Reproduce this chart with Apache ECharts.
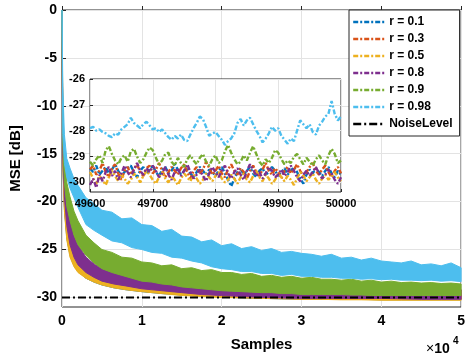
<!DOCTYPE html>
<html>
<head>
<meta charset="utf-8">
<script src="https://cdn.jsdelivr.net/npm/echarts@6/dist/echarts.min.js"></script>
<style>html,body{margin:0;padding:0;background:#fff}#c{width:468px;height:359px}</style>
</head>
<body>
<div id="c"></div>
<script>
// ---- main chart: envelope (upper/lower) of each noisy learning curve ----
const xMain = [0,100,300,600,1000,1500,2000,3000,4000,5000,6500,8000,10000,12500,15000,17500,20000,22500,25000,27500,30000,32500,35000,37500,40000,42500,45000,47500,50000];
const xFine = [0,100,300,600,1000,1500,2000,3000,4000,5000,6250,7500,8750,10000,11250,12500,13750,15000,16250,17500,18750,20000,21250,22500,23750,25000,26250,27500,28750,30000,31250,32500,33750,35000,36250,37500,38750,40000,41250,42500,43750,45000,46250,47500,48750,50000];

const up01 = [0,-11.8,-16.8,-20.8,-22.8,-24.6,-25.5,-26.5,-27.1,-27.5,-27.9,-28.2,-28.5,-28.7,-28.85,-28.95,-29.05,-29.1,-29.15,-29.2,-29.25,-29.25,-29.25,-29.25,-29.25,-29.25,-29.25,-29.25,-29.25];
const lo01 = [0,-15.8,-20.8,-23.8,-25.6,-26.7,-27.3,-28,-28.4,-28.7,-29,-29.2,-29.4,-29.6,-29.75,-29.85,-29.95,-30.05,-30.1,-30.15,-30.2,-30.2,-30.2,-30.2,-30.25,-30.25,-30.25,-30.25,-30.25];
const up03 = [0,-11.5,-16.5,-20.5,-22.6,-24.4,-25.3,-26.4,-27,-27.4,-27.8,-28.1,-28.4,-28.6,-28.8,-28.9,-29.0,-29.05,-29.1,-29.15,-29.2,-29.2,-29.2,-29.2,-29.2,-29.2,-29.2,-29.2,-29.2];
const lo03 = [0,-15.5,-20.5,-23.5,-25.4,-26.5,-27.2,-27.9,-28.3,-28.6,-28.9,-29.1,-29.3,-29.5,-29.7,-29.8,-29.9,-30.0,-30.05,-30.1,-30.15,-30.15,-30.2,-30.2,-30.2,-30.2,-30.2,-30.2,-30.2];
const up05 = [0,-12,-17,-21,-23,-24.8,-25.6,-26.6,-27.2,-27.6,-28,-28.3,-28.6,-28.8,-28.9,-29.0,-29.1,-29.15,-29.2,-29.25,-29.3,-29.3,-29.3,-29.3,-29.3,-29.3,-29.3,-29.3,-29.3];
const lo05 = [0,-16,-21,-24,-25.8,-26.8,-27.4,-28,-28.4,-28.7,-29,-29.2,-29.4,-29.6,-29.8,-29.9,-30,-30.05,-30.1,-30.15,-30.2,-30.2,-30.25,-30.25,-30.3,-30.3,-30.3,-30.3,-30.3];
const up08 = [0,-11,-16,-19.5,-21.5,-23.5,-24.5,-25.8,-26.5,-27,-27.4,-27.7,-28,-28.3,-28.5,-28.7,-28.8,-28.9,-29.0,-29.05,-29.1,-29.1,-29.1,-29.15,-29.2,-29.2,-29.2,-29.2,-29.2];
const lo08 = [0,-15,-19.5,-22.5,-24.5,-25.8,-26.6,-27.4,-27.9,-28.3,-28.6,-28.8,-29.1,-29.3,-29.5,-29.7,-29.8,-29.9,-30.0,-30.05,-30.1,-30.1,-30.1,-30.1,-30.1,-30.15,-30.2,-30.2,-30.2];
const up09 = [0,-10,-15,-18,-19.5,-21,-22,-23.5,-24.3,-25.0,-25.3,-25.8,-25.9,-26.3,-26.4,-26.7,-26.6,-27.0,-26.9,-27.2,-27.1,-27.4,-27.4,-27.6,-27.5,-27.8,-27.7,-27.9,-27.8,-28.0,-27.9,-28.1,-28.1,-28.2,-28.1,-28.3,-28.2,-28.4,-28.3,-28.45,-28.4,-28.5,-28.45,-28.55,-28.5,-28.6];
const lo09 = [0,-14,-18,-20.5,-22,-23.5,-24.5,-25.6,-26.4,-27.0,-27.4,-27.7,-28.0,-28.3,-28.4,-28.6,-28.7,-28.9,-29.0,-29.1,-29.2,-29.3,-29.35,-29.4,-29.45,-29.5,-29.5,-29.6,-29.6,-29.7,-29.7,-29.7,-29.7,-29.7,-29.75,-29.75,-29.8,-29.8,-29.8,-29.8,-29.8,-29.8,-29.8,-29.8,-29.8,-29.8];
const up098 = [0,-8,-13,-15.5,-16.5,-17.6,-18.3,-19.6,-20.2,-20.9,-21.1,-21.8,-21.7,-22.4,-22.5,-23.1,-22.9,-23.6,-23.7,-24.2,-24.0,-24.6,-24.4,-24.9,-24.7,-25.1,-24.9,-25.3,-25.2,-25.4,-25.5,-25.7,-25.5,-25.9,-25.8,-26.1,-25.9,-26.2,-26.3,-26.4,-26.2,-26.6,-26.5,-26.7,-26.4,-26.9];
const lo098 = [0,-13,-16,-17.5,-18.6,-19.6,-20.6,-22.4,-23.0,-23.5,-24.1,-24.3,-24.8,-25.0,-25.3,-25.4,-25.8,-25.9,-26.2,-26.4,-26.8,-27.0,-27.1,-27.3,-27.3,-27.5,-27.5,-27.7,-27.6,-27.8,-27.8,-27.9,-27.9,-28.0,-28.0,-28.1,-28.05,-28.15,-28.1,-28.2,-28.2,-28.25,-28.2,-28.3,-28.25,-28.35];
const noiseLevel = -30;

// ---- inset: samples 49600..50000, every 5th sample ----
const insetStart = 49600, insetStep = 5;
const in01 = [-29.45,-29.60,-29.35,-29.70,-29.55,-29.40,-29.65,-29.50,-29.30,-29.55,
-29.75,-29.60,-29.45,-29.35,-29.60,-29.80,-29.55,-29.40,-29.65,-29.50,
-29.35,-29.60,-29.75,-29.50,-29.40,-29.65,-29.55,-29.30,-29.50,-29.70,
-29.55,-29.45,-29.65,-29.80,-29.60,-29.40,-29.55,-29.70,-29.50,-29.60,
-29.75,-29.55,-29.40,-29.65,-29.90,-30.15,-29.85,-29.60,-29.45,-29.70,
-29.55,-29.40,-29.65,-29.80,-29.55,-29.45,-29.70,-29.60,-29.40,-29.55,
-29.75,-29.60,-29.45,-29.70,-29.55,-29.40,-29.60,-29.85,-30.05,-29.70,
-29.50,-29.65,-29.45,-29.60,-29.75,-29.55,-29.40,-29.65,-29.80,-29.55,-29.70];
const in03 = [-29.50,-29.35,-29.70,-29.55,-29.25,-29.60,-29.80,-29.45,-29.30,-29.65,
-29.90,-29.55,-29.40,-29.70,-29.50,-29.30,-29.60,-29.75,-29.45,-29.35,
-29.65,-29.50,-29.25,-29.55,-29.80,-29.60,-29.40,-29.55,-29.70,-29.45,
-29.30,-29.60,-29.85,-29.55,-29.40,-29.65,-29.50,-29.20,-29.45,-29.70,
-29.55,-29.35,-29.65,-29.80,-29.50,-29.30,-29.55,-29.70,-29.45,-29.60,
-29.85,-29.55,-29.35,-29.60,-29.75,-29.50,-29.25,-29.55,-29.70,-29.45,
-29.60,-29.85,-29.55,-29.40,-29.65,-29.50,-29.30,-29.55,-29.75,-29.60,
-29.40,-29.25,-29.55,-29.70,-29.50,-29.35,-29.60,-29.80,-29.55,-29.40,-29.65];
const in05 = [-29.60,-29.85,-30.05,-29.75,-29.90,-30.10,-29.80,-29.55,-29.75,-29.95,
-29.70,-29.85,-30.05,-29.90,-29.65,-29.80,-30.00,-29.75,-29.55,-29.70,
-29.90,-30.05,-29.80,-29.60,-29.85,-30.00,-29.75,-29.90,-30.10,-29.85,
-29.65,-29.80,-29.95,-29.70,-29.85,-30.05,-29.90,-29.65,-29.80,-29.95,
-29.75,-29.60,-29.85,-30.00,-29.90,-29.70,-29.85,-30.05,-29.80,-29.65,
-29.90,-30.00,-29.75,-29.55,-29.80,-29.95,-29.70,-29.85,-30.05,-29.90,
-29.65,-29.80,-29.95,-29.75,-29.90,-30.10,-29.85,-29.60,-29.75,-29.95,
-29.80,-29.65,-29.90,-30.05,-29.85,-29.70,-29.90,-29.75,-29.60,-29.80,-29.95];
const in08 = [-30.10,-29.85,-30.20,-29.70,-29.95,-29.60,-29.40,-29.75,-29.55,-29.90,
-29.65,-29.35,-29.60,-29.80,-29.50,-29.25,-29.55,-29.70,-29.45,-29.60,
-29.35,-29.55,-29.80,-29.65,-29.40,-29.70,-29.90,-29.60,-29.45,-29.75,
-29.55,-29.30,-29.60,-29.85,-29.70,-29.50,-29.75,-29.95,-29.65,-29.40,
-29.60,-29.80,-29.55,-29.35,-29.65,-29.85,-29.60,-29.45,-29.70,-29.90,
-29.55,-29.30,-29.50,-29.75,-29.60,-29.85,-29.65,-29.40,-29.55,-29.80,
-29.70,-29.50,-29.75,-29.60,-29.35,-29.55,-29.80,-29.95,-29.70,-29.55,
-29.75,-29.60,-29.40,-29.65,-29.85,-29.70,-29.50,-29.65,-29.90,-30.05,-29.80];
const in09 = [-29.20,-29.35,-29.10,-28.95,-29.25,-28.75,-28.60,-28.90,-29.15,-29.30,
-29.05,-28.95,-29.20,-28.80,-28.70,-29.00,-29.25,-29.10,-28.85,-28.65,
-28.75,-29.05,-29.30,-29.15,-28.90,-28.85,-29.20,-29.35,-29.05,-29.25,
-29.40,-29.10,-28.95,-29.15,-29.30,-29.05,-28.90,-29.20,-29.35,-29.10,
-28.95,-29.25,-29.15,-28.80,-28.55,-28.85,-29.10,-29.30,-29.20,-28.95,
-29.15,-28.85,-28.60,-28.90,-29.20,-29.35,-29.10,-29.25,-29.05,-28.75,
-28.85,-29.10,-29.30,-29.15,-29.25,-29.00,-28.90,-29.10,-29.30,-29.05,
-29.20,-29.35,-29.10,-28.95,-29.15,-29.30,-28.95,-28.70,-28.90,-29.25,-29.15];
const in098 = [-27.90,-27.85,-28.00,-27.95,-28.05,-28.10,-28.20,-28.25,-28.10,-28.15,
-27.95,-27.85,-27.75,-27.50,-27.70,-27.80,-27.90,-27.75,-27.65,-27.80,
-27.95,-27.90,-28.05,-27.95,-28.10,-28.25,-28.35,-28.20,-28.30,-28.15,
-28.35,-28.40,-28.15,-27.90,-27.70,-27.45,-27.55,-27.85,-28.20,-28.10,
-28.05,-28.20,-28.35,-28.55,-28.40,-28.30,-28.10,-27.70,-27.55,-27.80,
-27.60,-27.50,-27.75,-28.00,-28.20,-28.45,-28.30,-28.10,-27.85,-28.00,
-27.90,-28.20,-28.35,-28.50,-28.30,-28.40,-28.00,-27.60,-27.75,-27.90,
-27.75,-28.05,-28.15,-27.80,-27.65,-27.45,-27.35,-26.85,-27.35,-27.60,-27.45];

const names = ['r = 0.1','r = 0.3','r = 0.5','r = 0.8','r = 0.9','r = 0.98'];
const colors = ['#0072BD','#D95319','#EDB120','#7E2F8E','#77AC30','#4DBEEE'];
const mainYTicks = [-30,-25,-20,-15,-10,-5,0];
const insetYTicks = [-30,-29,-28,-27,-26];

const bands = [[xMain,up01,lo01],[xMain,up03,lo03],[xMain,up05,lo05],[xMain,up08,lo08],[xFine,up09,lo09],[xFine,up098,lo098]];
const insetData = [in01,in03,in05,in08,in09,in098];
const dashDot = [5,2,2,2];
const FONT = 'Liberation Sans, Arial, Helvetica, sans-serif';

const series = [];
bands.forEach((b, k) => {
  series.push({
    type: 'custom', name: '_band' + k, xAxisIndex: 0, yAxisIndex: 0, z: 2, silent: true,
    data: [[0, 0]],
    renderItem: function (params, api) {
      const xs = b[0], pts = [];
      for (let i = 0; i < xs.length; i++) pts.push(api.coord([xs[i], b[1][i]]));
      for (let i = xs.length - 1; i >= 0; i--) pts.push(api.coord([xs[i], b[2][i]]));
      return { type: 'polygon', shape: { points: pts }, style: { fill: colors[k], stroke: colors[k], lineWidth: 1 } };
    }
  });
});
series.push({
  type: 'line', name: 'NoiseLevel', xAxisIndex: 0, yAxisIndex: 0, z: 3,
  data: [[0, noiseLevel], [50000, noiseLevel]], symbol: 'none',
  lineStyle: { color: '#000', width: 2, type: [8,3,2,3] }, itemStyle: { color: '#000' }
});
insetData.forEach((d, k) => {
  series.push({
    type: 'line', name: names[k], xAxisIndex: 1, yAxisIndex: 1, z: 7,
    data: d.map((v, i) => [insetStart + i * insetStep, v]),
    symbol: 'none', lineStyle: { color: colors[k], width: 2.4, type: dashDot },
    itemStyle: { color: colors[k] }
  });
});

const chart = echarts.init(document.getElementById('c'), null, { renderer: 'canvas' });
chart.setOption({
  animation: false,
  backgroundColor: '#fff',
  textStyle: { fontFamily: FONT },
  grid: [
    { left: 57, right: 6, top: 10, bottom: 52, show: true, borderColor: '#262626', borderWidth: 1, backgroundColor: '#fff' },
    { left: 90, top: 79, width: 251, height: 113, show: true, borderColor: '#262626', borderWidth: 1, backgroundColor: '#fff', z: 5 }
  ],
  xAxis: [
    { type: 'value', gridIndex: 0, min: 0, max: 50000, interval: 10000,
      name: 'Samples', nameLocation: 'middle', nameGap: 30,
      nameTextStyle: { fontSize: 15, fontWeight: 'bold', color: '#000', fontFamily: FONT },
      axisLine: { show: false }, axisTick: { inside: true, length: 4, lineStyle: { color: '#262626' } },
      axisLabel: { fontSize: 14, fontWeight: 'bold', color: '#000', margin: 7, fontFamily: FONT, formatter: v => String(v / 10000) },
      splitLine: { show: true, lineStyle: { color: '#e3e3e3', width: 1 } } },
    { type: 'value', gridIndex: 1, min: 49600, max: 50000, interval: 100, z: 6,
      axisLine: { show: false }, axisTick: { inside: true, length: 3, lineStyle: { color: '#262626' } },
      axisLabel: { fontSize: 11, fontWeight: 'bold', color: '#000', margin: 6, fontFamily: FONT, formatter: v => String(v) },
      splitLine: { show: true, lineStyle: { color: '#e3e3e3', width: 1 } } }
  ],
  yAxis: [
    { type: 'value', gridIndex: 0, min: -31, max: 0,
      name: 'MSE [dB]', nameLocation: 'middle', nameGap: 39,
      nameTextStyle: { fontSize: 15, fontWeight: 'bold', color: '#000', fontFamily: FONT },
      axisLine: { show: false },
      axisTick: { inside: true, length: 4, customValues: mainYTicks, lineStyle: { color: '#262626' } },
      axisLabel: { fontSize: 14, fontWeight: 'bold', color: '#000', margin: 5, customValues: mainYTicks, fontFamily: FONT },
      splitLine: { show: true, lineStyle: { color: '#e3e3e3', width: 1 } } },
    { type: 'value', gridIndex: 1, min: -30.37, max: -26, z: 6,
      axisLine: { show: false },
      axisTick: { inside: true, length: 3, customValues: insetYTicks, lineStyle: { color: '#262626' } },
      axisLabel: { fontSize: 11, fontWeight: 'bold', color: '#000', margin: 5, customValues: insetYTicks, fontFamily: FONT },
      splitLine: { show: true, lineStyle: { color: '#e3e3e3', width: 1 } } }
  ],
  legend: {
    orient: 'vertical', left: 349, top: 10, z: 20,
    data: names.concat(['NoiseLevel']),
    itemWidth: 31, itemHeight: 12, itemGap: 5,
    padding: [6, 7, 6, 3],
    itemStyle: { opacity: 0 },
    lineStyle: { width: 2.4 },
    backgroundColor: '#fff', borderColor: '#262626', borderWidth: 1, borderRadius: 0,
    textStyle: { fontSize: 12, fontWeight: 'bold', color: '#000', fontFamily: FONT },
    selectedMode: false
  },
  graphic: [
    { type: 'text', left: 426, top: 342, z: 20,
      style: { text: '{x|×}{n|10}', fontFamily: FONT,
        rich: { x: { fontSize: 14, fill: '#000', fontFamily: FONT },
                n: { fontSize: 14, fontWeight: 'bold', fill: '#000', fontFamily: FONT } } } },
    { type: 'text', left: 453, top: 336, z: 20,
      style: { text: '4', fontSize: 10, fontWeight: 'bold', fill: '#000', fontFamily: FONT } }
  ],
  series: series
});
</script>
</body>
</html>
